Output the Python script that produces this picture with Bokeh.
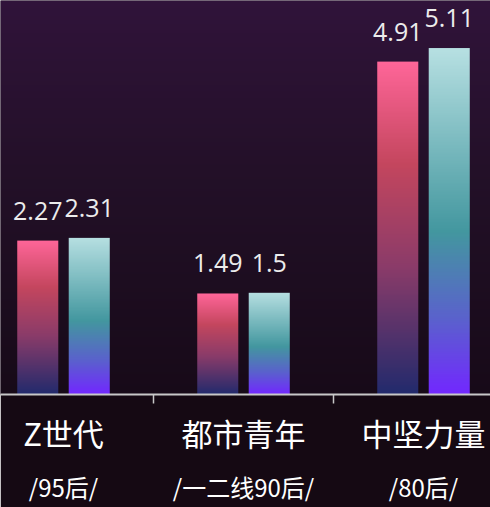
import numpy as np
from bokeh.plotting import figure
from bokeh.models import Range1d, FixedTicker, ColumnDataSource, LabelSet, LinearAxis
from bokeh.core.properties import value
from bokeh.embed import file_html
from bokeh.resources import INLINE

# ---- data ----
categories = ["Z世代", "都市青年", "中坚力量"]
sub_labels = ["/95后/", "/一二线90后/", "/80后/"]
series_a = [2.27, 1.49, 4.91]   # pink bars
series_b = [2.31, 1.5, 5.11]    # teal bars

# ---- styling ----
W, H = 490, 507
BASE = 394            # pixel row of the axis line
BOTTOM = H - BASE
PX_PER_UNIT = 67.8
off = 0.143
bw = 0.228

def hex2rgb(h):
    h = h.lstrip("#")
    return np.array([int(h[i:i + 2], 16) for i in (0, 2, 4)], dtype=float)

def grad(stops, t):
    for (p0, c0), (p1, c1) in zip(stops[:-1], stops[1:]):
        if t <= p1:
            f = (t - p0) / (p1 - p0) if p1 > p0 else 0
            return hex2rgb(c0) * (1 - f) + hex2rgb(c1) * f
    return hex2rgb(stops[-1][1])

def grad_image(stops, n=256, w=4):
    # row 0 = bottom; stops given from top (0) to bottom (1)
    img = np.zeros((n, w), dtype=np.uint32)
    view = img.view(dtype=np.uint8).reshape((n, w, 4))
    for i in range(n):
        c = grad(stops, 1 - i / (n - 1))
        view[i, :, 0:3] = np.round(c).astype(np.uint8)
        view[i, :, 3] = 255
    return img

pink_stops = [(0.0, "#ff6699"), (0.31, "#c4465e"), (0.62, "#8a3b69"), (1.0, "#222a6c")]
teal_stops = [(0.0, "#b7e0e2"), (0.53, "#43979f"), (0.78, "#5a62cc"), (1.0, "#7228ff")]
bg_stops = [(0.0, "#30133a"), (0.43, "#231028"), (1.0, "#170a18")]

x0 = -63 / 180
x1 = (W - 63) / 180
ytop = BASE / PX_PER_UNIT

p = figure(width=W, height=H, output_backend="svg", toolbar_location=None,
           x_range=Range1d(x0, x1), y_range=Range1d(0, ytop),
           y_axis_location=None, min_border_left=0, min_border_right=0,
           min_border_top=0, min_border_bottom=BOTTOM,
           outline_line_color=None, border_fill_color="#150913",
           background_fill_color="#1d0c1f")
p.grid.visible = False

# background gradient
p.image_rgba(image=[grad_image(bg_stops, 200, 2)], x=x0, y=0, dw=x1 - x0, dh=ytop)

# gradient bars
for values, stops, dx in ((series_a, pink_stops, -off), (series_b, teal_stops, off)):
    img = grad_image(stops, 256, 4)
    n = len(values)
    p.image_rgba(image=[img] * n, x=[i + dx - bw / 2 for i in range(n)],
                 y=[0] * n, dw=[bw] * n, dh=values)

# value labels
lab_src = ColumnDataSource(dict(
    x=[i - off for i in range(3)] + [i + off for i in range(3)],
    y=series_a + series_b,
    t=[str(v) for v in series_a + series_b]))
p.add_layout(LabelSet(x="x", y="y", text="t", source=lab_src, y_offset=21,
                      text_align="center", text_baseline="alphabetic",
                      text_font=value("Open Sans"), text_font_size=value("25px"),
                      text_color="#ececec"))

# x axis: first label line
ax = p.xaxis[0]
ax.ticker = FixedTicker(ticks=[0, 1, 2], minor_ticks=[0.5, 1.5])
ax.major_label_overrides = {i: c for i, c in enumerate(categories)}
ax.major_tick_out = 0
ax.major_tick_in = 0
ax.major_tick_line_color = None
ax.minor_tick_out = 9
ax.minor_tick_in = 0
ax.minor_tick_line_color = "#c8c8c8"
ax.minor_tick_line_width = 1.5
ax.axis_line_color = "#c8c8c8"
ax.axis_line_width = 2
ax.major_label_standoff = 6
ax.major_label_text_font = "Noto Sans CJK SC"
ax.major_label_text_font_size = "31px"
ax.major_label_text_color = "#ffffff"

# second label line as another axis
ax2 = LinearAxis(ticker=FixedTicker(ticks=[0, 1, 2], minor_ticks=[]),
                 major_label_overrides={i: s for i, s in enumerate(sub_labels)},
                 axis_line_color=None, major_tick_line_color=None,
                 minor_tick_line_color=None, major_tick_out=0, major_tick_in=0,
                 major_label_standoff=11,
                 major_label_text_font="Noto Sans CJK SC",
                 major_label_text_font_size="24px",
                 major_label_text_color="#ffffff")
p.add_layout(ax2, "below")

open("out.html", "w").write(file_html(p, INLINE))
